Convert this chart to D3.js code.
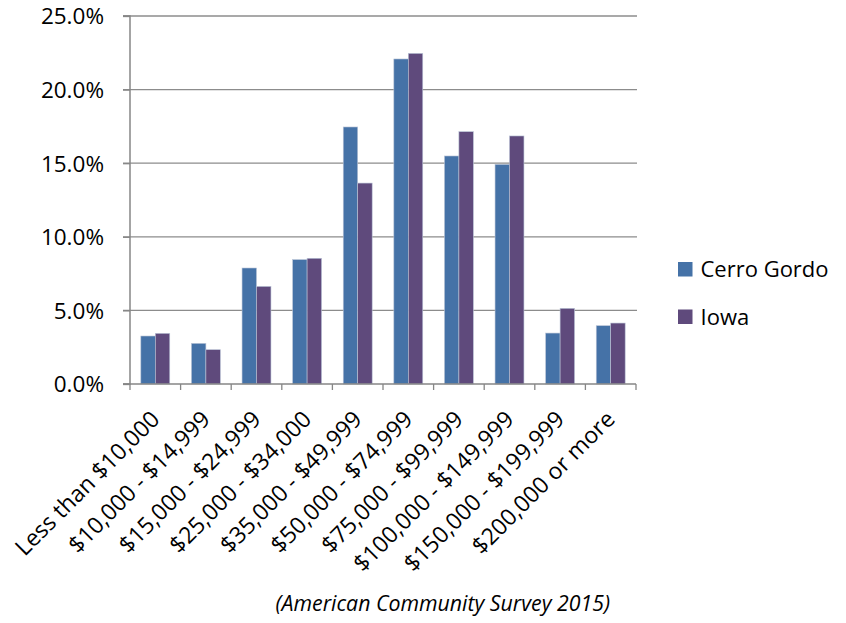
<!DOCTYPE html>
<html><head><meta charset="utf-8">
<script src="https://cdn.jsdelivr.net/npm/d3@7"></script>
<style>body{margin:0;background:#fff}svg{display:block}text{font-family:"Open Sans",sans-serif;fill:#000}</style>
</head><body><svg id="c" width="846" height="623"></svg>
<script>
const categories = ["Less than $10,000","$10,000 - $14,999","$15,000 - $24,999","$25,000 - $34,000","$35,000 - $49,999","$50,000 - $74,999","$75,000 - $99,999","$100,000 - $149,999","$150,000 - $199,999","$200,000 or more"];
const seriesNames = ["Cerro Gordo","Iowa"];
const cerroGordo = [3.26,2.76,7.88,8.45,17.46,22.08,15.49,14.92,3.46,3.96];
const iowa = [3.44,2.33,6.63,8.54,13.65,22.46,17.14,16.85,5.14,4.14];
const yTicks = [0,5,10,15,20,25];
const colors = ["#4572a7","#5f4a7c"];
const note = "(American Community Survey 2015)";

const svg = d3.select("#c");
const L=130, R=636, T=16, B=384;
const x = d3.scaleBand().domain(categories).range([L,R]).paddingInner(1.5/3.5).paddingOuter(0.75/3.5);
const xs = d3.scaleBand().domain(seriesNames).range([0,x.bandwidth()]);
const y = d3.scaleLinear().domain([0,25]).range([B,T]);

// gridlines
svg.append("g").selectAll("line").data(yTicks.slice(1)).join("line")
  .attr("x1",L-7).attr("x2",R+1).attr("y1",d=>y(d)).attr("y2",d=>y(d))
  .attr("stroke","#8c8c8c").attr("stroke-width",1.3);

// bars
const data = categories.map((c,i)=>({c, v:[cerroGordo[i], iowa[i]]}));
const g = svg.append("g").selectAll("g").data(data).join("g").attr("transform",d=>`translate(${x(d.c)},0)`);
g.selectAll("rect").data(d=>d.v.map((v,j)=>({v,s:seriesNames[j],j}))).join("rect")
  .attr("x",d=>xs(d.s)).attr("width",xs.bandwidth()).attr("y",d=>y(d.v)).attr("height",d=>B-y(d.v))
  .attr("fill",d=>colors[d.j]).attr("stroke","#b9c3d6").attr("stroke-width",0.6);

// y axis
const ya = d3.axisLeft(y).tickValues(yTicks).tickSize(7).tickFormat(d=>d.toFixed(1)+"%");
const yg = svg.append("g").attr("transform",`translate(${L},0)`).call(ya);
yg.select(".domain").attr("stroke","#868686").attr("stroke-width",1.5).attr("d",`M-7,${T}H0V${B}H-7`);
yg.selectAll(".tick line").attr("stroke","#868686").attr("stroke-width",1.3);
yg.selectAll(".tick text").attr("x",-26).style("font-size","22.5px").attr("dy","0.35em");

// x axis
const xBoundaries = d3.range(categories.length+1).map(i=>L+i*(R-L)/categories.length);
svg.append("line").attr("x1",L-7).attr("x2",R).attr("y1",B).attr("y2",B).attr("stroke","#868686").attr("stroke-width",1.5);
svg.append("g").selectAll("line").data(xBoundaries).join("line")
  .attr("x1",d=>d).attr("x2",d=>d).attr("y1",B).attr("y2",B+6).attr("stroke","#868686").attr("stroke-width",1.3);
svg.append("g").selectAll("text").data(categories).join("text")
  .attr("transform",d=>`translate(${x(d)+x.bandwidth()/2},${B+31}) rotate(-45)`)
  .attr("text-anchor","end").attr("dy","0.35em").style("font-size","23px").text(d=>d);

// legend
const lg = svg.append("g").selectAll("g").data(seriesNames).join("g")
  .attr("transform",(d,i)=>`translate(678,${262+i*47.5})`);
lg.append("rect").attr("width",14.5).attr("height",14.5).attr("fill",(d,i)=>colors[i]);
lg.append("text").attr("x",22.5).attr("y",7.5).attr("dy","0.35em").style("font-size","22px").text(d=>d);

svg.append("text").attr("x",610).attr("y",611).attr("text-anchor","end").style("font-size","21.3px").style("font-style","italic").text(note);
</script></body></html>
